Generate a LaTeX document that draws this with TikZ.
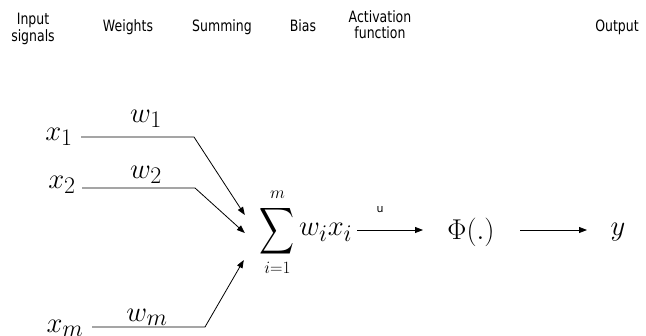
\documentclass[tikz,border=0pt]{standalone}
\usepackage{fontspec}
\setsansfont{DejaVu Sans}
\usetikzlibrary{arrows.meta}
\newcommand\hdtxt[1]{\scalebox{1}[1.25]{\begin{tabular}{@{}c@{}}#1\end{tabular}}}
\newcommand\mt[1]{\scalebox{1.15}{$#1$}}
\begin{document}
\begin{tikzpicture}[x=1pt,y=-1pt,
  hdr/.style={font=\sffamily\fontsize{12.5}{12.8}\selectfont, inner sep=0pt},
  mth/.style={font=\fontsize{24.88}{30}\selectfont, inner sep=0pt},
  lim/.style={font=\fontsize{17.28}{20}\selectfont, inner sep=0pt},
  conn/.style={line width=0.8pt},
  arr/.style={conn,-{Triangle[length=8pt,width=6pt]}}]
\useasboundingbox (0,0) rectangle (646,336);
% header
\node[hdr] (h1) at (33,30) {\hdtxt{Input\\signals}};
\node[hdr] (h2) at (128,28) {\hdtxt{Weights}};
\node[hdr] (h3) at (222,28) {\hdtxt{Summing}};
\node[hdr] (h4) at (303,28) {\hdtxt{Bias}};
\node[hdr] (h5) at (380,27) {\hdtxt{Activation\\function}};
\node[hdr] (h6) at (617,28) {\hdtxt{Output}};
% inputs
\node[mth] (x1) at (59,137) {\mt{x_1}};
\node[mth] (x2) at (62,185) {\mt{x_2}};
\node[mth] (xm) at (65,328) {\mt{x_m}};
\node[mth] (w1) at (146,119) {\mt{w_1}};
\node[mth] (w2) at (146,175) {\mt{w_2}};
\node[mth] (wm) at (147,317) {\mt{w_m}};
% summation
\node[inner sep=0pt] (sigma) at (277.5,231) {\resizebox*{35pt}{52pt}{$\displaystyle\sum$}};
\node[lim, anchor=south] (sup) at ([yshift=6pt]sigma.north) {$m$};
\node[lim, anchor=north] (sub) at ([yshift=-5pt]sigma.south) {$i{=}1$};
\node[mth, anchor=west] (wx) at (299,232) {\mt{w_i x_i}};
\node[mth] (phi) at (471,232) {\mt{\Phi(.)}};
\node[mth] (y) at (618,232) {\mt{y}};
\node[font=\sffamily\fontsize{11}{12}\selectfont, inner sep=0pt] (u) at (380,210) {u};
% bend points and targets
\coordinate (b1) at (194,137);
\coordinate (b2) at (195,188);
\coordinate (bm) at (205,327);
\coordinate (t1) at ([shift={(-15,-16)}]sigma.west);
\coordinate (t2) at ([shift={(-15,2)}]sigma.west);
\coordinate (tm) at ([shift={(-16,29)}]sigma.west);
\coordinate (s1) at (81,137);
\coordinate (s2) at (82,188);
\coordinate (sm) at (92,327);
\coordinate (a1s) at (357,230);
\coordinate (a1e) at (423,230);
\coordinate (a2s) at (520,230);
\coordinate (a2e) at (587,230);
\draw[arr] (s1) -- (b1) -- (t1);
\draw[arr] (s2) -- (b2) -- (t2);
\draw[arr] (sm) -- (bm) -- (tm);
\draw[arr] (a1s) -- (a1e);
\draw[arr] (a2s) -- (a2e);
\end{tikzpicture}
\end{document}
